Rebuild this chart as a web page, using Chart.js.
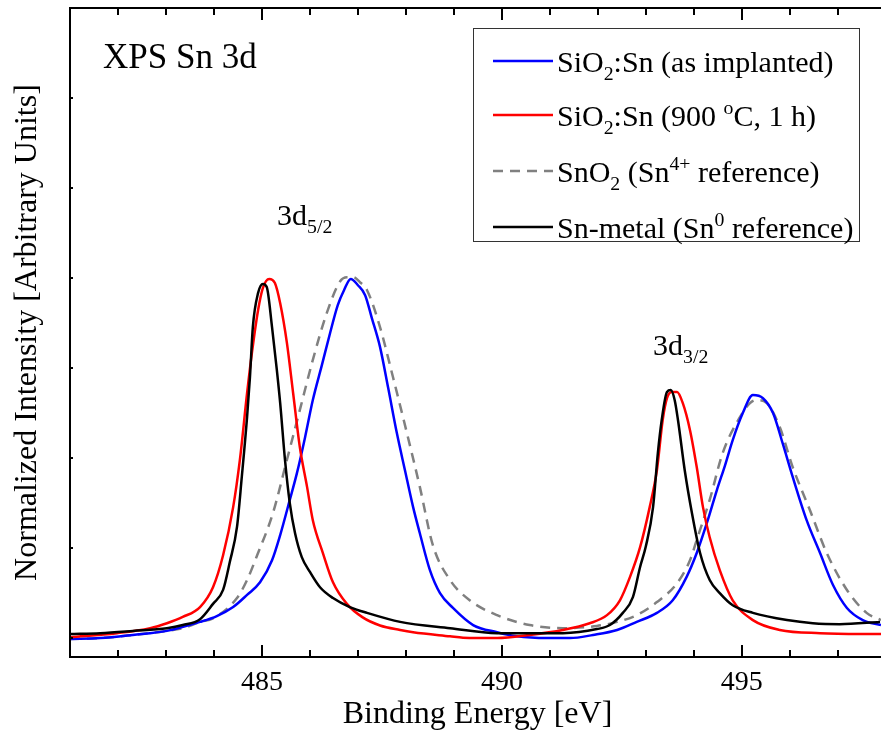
<!DOCTYPE html>
<html>
<head>
<meta charset="utf-8">
<script src="https://cdn.jsdelivr.net/npm/chart.js@4"></script>
<style>
  html, body { margin: 0; padding: 0; background: #fff; overflow: hidden; }
  #wrap { width: 881px; height: 740px; position: relative; }
</style>
</head>
<body>
<div id="wrap"><canvas id="xpsChart"></canvas></div>
<script>
// readings taken off the spectra (binding energy in eV, normalized intensity)
const implantedEnergy = [481.00, 481.63, 482.31, 483.02, 483.71, 484.06, 484.40, 484.69, 484.96, 485.21, 485.38, 485.58, 485.73, 485.90, 486.06, 486.25, 486.42, 486.58, 486.71, 486.85, 487.00, 487.15, 487.29, 487.46, 487.63, 487.81, 487.98, 488.15, 488.29, 488.50, 488.71, 488.98, 489.40, 489.90, 490.31, 490.94, 491.42, 491.90, 492.40, 492.81, 493.23, 493.56, 493.85, 494.06, 494.29, 494.48, 494.65, 494.81, 495.02, 495.23, 495.44, 495.65, 495.85, 496.06, 496.35, 496.63, 496.90, 497.19, 497.52, 497.90];
const implantedIntensity = [-0.002, 0.000, 0.007, 0.016, 0.036, 0.049, 0.069, 0.096, 0.124, 0.173, 0.229, 0.307, 0.367, 0.447, 0.529, 0.607, 0.678, 0.740, 0.773, 0.798, 0.784, 0.762, 0.711, 0.647, 0.556, 0.456, 0.373, 0.291, 0.233, 0.151, 0.100, 0.067, 0.029, 0.013, 0.004, 0.000, 0.000, 0.007, 0.018, 0.036, 0.056, 0.084, 0.136, 0.189, 0.262, 0.329, 0.384, 0.440, 0.500, 0.540, 0.533, 0.500, 0.433, 0.358, 0.262, 0.189, 0.118, 0.067, 0.040, 0.029];

const annealedEnergy = [481.00, 481.98, 482.67, 483.02, 483.35, 483.71, 483.98, 484.19, 484.40, 484.54, 484.69, 484.79, 484.92, 485.02, 485.15, 485.27, 485.38, 485.52, 485.65, 485.79, 485.94, 486.06, 486.27, 486.48, 486.77, 487.10, 487.46, 487.88, 488.15, 488.92, 489.19, 489.90, 490.58, 491.27, 491.83, 492.19, 492.46, 492.67, 492.88, 493.08, 493.23, 493.35, 493.44, 493.54, 493.65, 493.77, 493.92, 494.06, 494.19, 494.33, 494.54, 494.81, 495.23, 495.79, 496.63, 497.90];
const annealedIntensity = [0.002, 0.011, 0.022, 0.033, 0.047, 0.069, 0.113, 0.184, 0.291, 0.396, 0.544, 0.633, 0.729, 0.778, 0.798, 0.789, 0.744, 0.656, 0.544, 0.424, 0.336, 0.262, 0.189, 0.124, 0.076, 0.046, 0.028, 0.018, 0.013, 0.004, 0.001, 0.000, 0.007, 0.018, 0.033, 0.051, 0.084, 0.136, 0.202, 0.291, 0.373, 0.484, 0.533, 0.547, 0.547, 0.522, 0.462, 0.380, 0.291, 0.224, 0.151, 0.084, 0.040, 0.018, 0.011, 0.009];

const sno2Energy = [481.00, 481.63, 482.31, 483.02, 483.35, 483.71, 483.98, 484.48, 484.69, 484.90, 485.23, 485.52, 485.79, 486.06, 486.35, 486.63, 486.77, 486.90, 487.04, 487.19, 487.46, 487.73, 488.02, 488.29, 488.56, 488.92, 489.33, 489.90, 490.58, 491.27, 491.98, 492.40, 492.81, 493.23, 493.65, 493.92, 494.06, 494.33, 494.60, 494.96, 495.17, 495.31, 495.52, 495.79, 496.06, 496.42, 496.77, 497.19, 497.60, 497.90];
const sno2Intensity = [-0.002, 0.000, 0.007, 0.016, 0.022, 0.036, 0.044, 0.089, 0.129, 0.184, 0.278, 0.396, 0.507, 0.618, 0.722, 0.793, 0.802, 0.802, 0.791, 0.773, 0.691, 0.580, 0.456, 0.336, 0.207, 0.129, 0.084, 0.051, 0.029, 0.022, 0.027, 0.036, 0.051, 0.080, 0.122, 0.173, 0.218, 0.307, 0.411, 0.491, 0.522, 0.529, 0.522, 0.469, 0.380, 0.284, 0.189, 0.107, 0.056, 0.040];

const metalEnergy = [481.00, 481.63, 482.31, 483.02, 483.35, 483.71, 483.98, 484.19, 484.33, 484.48, 484.58, 484.69, 484.75, 484.81, 484.92, 485.02, 485.10, 485.21, 485.31, 485.38, 485.48, 485.58, 485.69, 485.83, 486.00, 486.21, 486.48, 486.83, 487.19, 487.88, 488.92, 489.90, 490.58, 491.27, 491.98, 492.25, 492.52, 492.73, 492.88, 493.00, 493.15, 493.25, 493.33, 493.44, 493.52, 493.60, 493.67, 493.81, 493.96, 494.13, 494.33, 494.54, 494.81, 495.23, 495.94, 496.48, 497.04, 497.88];
const metalIntensity = [0.009, 0.011, 0.016, 0.022, 0.029, 0.042, 0.076, 0.107, 0.169, 0.247, 0.358, 0.491, 0.580, 0.691, 0.767, 0.787, 0.780, 0.691, 0.596, 0.522, 0.396, 0.300, 0.233, 0.180, 0.147, 0.113, 0.089, 0.069, 0.056, 0.036, 0.022, 0.011, 0.011, 0.011, 0.020, 0.029, 0.056, 0.091, 0.158, 0.204, 0.291, 0.411, 0.484, 0.547, 0.551, 0.529, 0.484, 0.373, 0.278, 0.189, 0.129, 0.100, 0.073, 0.056, 0.040, 0.033, 0.031, 0.036];

const xMajorTicks = [485, 490, 495];
const xMinorTicks = [481, 482, 483, 484, 485, 486, 487, 488, 489, 490, 491, 492, 493, 494, 495, 496, 497];
const yTicks = [0, 0.2, 0.4, 0.6, 0.8, 1.0, 1.2, 1.4];

const legendRows = [
  [['SiO'], ['2', 'sub'], [':Sn (as implanted)']],
  [['SiO'], ['2', 'sub'], [':Sn (900 '], ['o', 'sup'], ['C, 1 h)']],
  [['SnO'], ['2', 'sub'], [' (Sn'], ['4+', 'sup'], [' reference)']],
  [['Sn-metal (Sn'], ['0', 'sup'], [' reference)']]
];

const SERIF = '"Liberation Serif", "Times New Roman", serif';

function toPoints(xs, ys) {
  return xs.map((v, i) => ({x: v, y: ys[i]}));
}

function drawRich(ctx, parts, x, y, size) {
  let cx = x;
  parts.forEach(([t, mode]) => {
    let s = size, dy = 0;
    if (mode === 'sub') { s = size * 0.66; dy = size * 0.28; }
    if (mode === 'sup') { s = size * 0.66; dy = -size * 0.4; }
    ctx.font = s + 'px ' + SERIF;
    ctx.fillText(t, cx, y + dy);
    cx += ctx.measureText(t).width;
  });
}

const framePlugin = {
  id: 'frame',
  afterDraw(chart) {
    const {ctx, chartArea: a, scales} = chart;
    const x = scales.x, y = scales.y;
    ctx.save();
    ctx.strokeStyle = '#000';
    ctx.lineWidth = 2;
    ctx.beginPath();
    ctx.moveTo(a.left, a.top); ctx.lineTo(a.right + 2, a.top);
    ctx.moveTo(a.left, a.top - 1); ctx.lineTo(a.left, a.bottom + 1);
    ctx.moveTo(a.left, a.bottom); ctx.lineTo(a.right + 2, a.bottom);
    xMinorTicks.forEach(v => {
      const px = Math.round(x.getPixelForValue(v));
      const len = xMajorTicks.includes(v) ? 12 : 7;
      ctx.moveTo(px, a.bottom); ctx.lineTo(px, a.bottom - len);
      ctx.moveTo(px, a.top); ctx.lineTo(px, a.top + len);
    });
    yTicks.forEach(v => {
      const py = Math.round(y.getPixelForValue(v));
      ctx.moveTo(a.left, py); ctx.lineTo(a.left + 3, py);
    });
    ctx.stroke();

    ctx.fillStyle = '#000';
    ctx.textAlign = 'center';
    ctx.textBaseline = 'alphabetic';
    ctx.font = '28px ' + SERIF;
    xMajorTicks.forEach(v => {
      ctx.fillText(String(v), x.getPixelForValue(v), a.bottom + 33);
    });

    ctx.font = '32px ' + SERIF;
    ctx.fillText('Binding Energy [eV]', (a.left + a.right) / 2 + 2, 723);
    ctx.save();
    ctx.translate(36, (a.top + a.bottom) / 2);
    ctx.rotate(-Math.PI / 2);
    ctx.fillText('Normalized Intensity [Arbitrary Units]', 0, 0);
    ctx.restore();

    ctx.textAlign = 'left';
    ctx.font = '35px ' + SERIF;
    ctx.fillText('XPS Sn 3d', 103, 68);
    drawRich(ctx, [['3d'], ['5/2', 'sub']], 277, 225, 30);
    drawRich(ctx, [['3d'], ['3/2', 'sub']], 653, 355, 30);

    // legend
    ctx.lineWidth = 1;
    ctx.strokeStyle = '#333';
    ctx.strokeRect(473.5, 28.5, 386, 213);
    const rowY = [61, 115, 171, 227];
    chart.data.datasets.forEach((ds, i) => {
      ctx.save();
      ctx.strokeStyle = ds.borderColor;
      ctx.lineWidth = ds.borderWidth;
      ctx.setLineDash(ds.borderDash || []);
      ctx.beginPath();
      ctx.moveTo(493, rowY[i]); ctx.lineTo(553, rowY[i]);
      ctx.stroke();
      ctx.restore();
      drawRich(ctx, legendRows[i], 557, rowY[i] + 11, 30);
    });
    ctx.restore();
  }
};

new Chart(document.getElementById('xpsChart'), {
  type: 'line',
  data: {
    datasets: [{
      label: 'SiO2:Sn (as implanted)',
      data: toPoints(implantedEnergy, implantedIntensity),
      borderColor: '#0000ff',
      borderWidth: 2.5,
      order: 2
    }, {
      label: 'SiO2:Sn (900 oC, 1 h)',
      data: toPoints(annealedEnergy, annealedIntensity),
      borderColor: '#ff0000',
      borderWidth: 2.5,
      order: 1
    }, {
      label: 'SnO2 (Sn4+ reference)',
      data: toPoints(sno2Energy, sno2Intensity),
      borderColor: '#808080',
      borderWidth: 2.5,
      borderDash: [10, 7],
      order: 3
    }, {
      label: 'Sn-metal (Sn0 reference)',
      data: toPoints(metalEnergy, metalIntensity),
      borderColor: '#000000',
      borderWidth: 2.5,
      order: 0
    }]
  },
  options: {
    responsive: true,
    maintainAspectRatio: false,
    animation: false,
    layout: { padding: { left: 70, top: 8, right: 0, bottom: 83 } },
    elements: {
      point: { radius: 0 },
      line: { cubicInterpolationMode: 'monotone', fill: false }
    },
    plugins: {
      legend: { display: false },
      tooltip: { enabled: false }
    },
    scales: {
      x: { type: 'linear', min: 481, max: 497.9, display: false },
      y: { min: -0.042, max: 1.4, display: false }
    }
  },
  plugins: [framePlugin]
});
</script>
</body>
</html>
